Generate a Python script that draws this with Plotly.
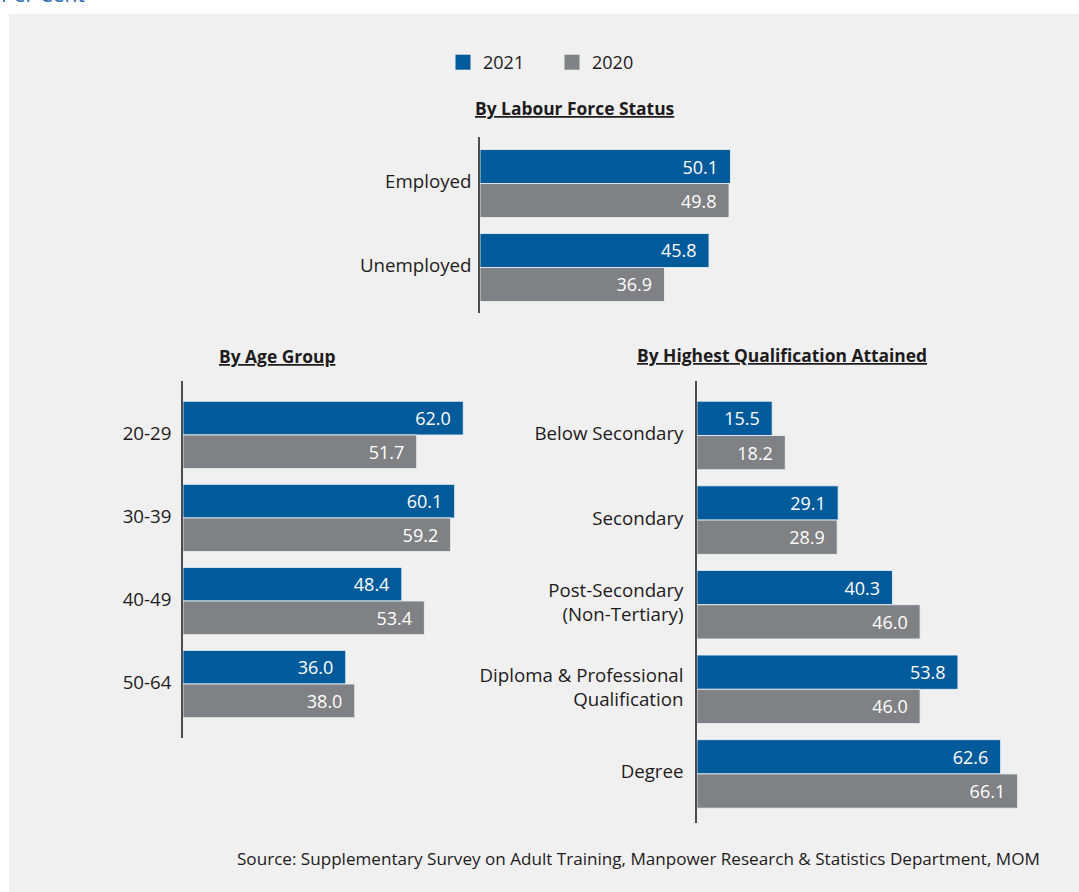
import plotly.graph_objects as go

# ---- data ----
series_names = ["2021", "2020"]

status_cats = ["Employed", "Unemployed"]
status_2021 = [50.1, 45.8]
status_2020 = [49.8, 36.9]

age_cats = ["20-29", "30-39", "40-49", "50-64"]
age_2021 = [62.0, 60.1, 48.4, 36.0]
age_2020 = [51.7, 59.2, 53.4, 38.0]

qual_cats = [
    "Below Secondary",
    "Secondary",
    "Post-Secondary<br>(Non-Tertiary)",
    "Diploma & Professional<br>Qualification",
    "Degree",
]
qual_2021 = [15.5, 29.1, 40.3, 53.8, 62.6]
qual_2020 = [18.2, 28.9, 46.0, 46.0, 66.1]

# ---- styling ----
W, H = 1079, 892
BLUE = "#015a9a"
GREY = "#808184"
TEXT = "#1e1b1c"
FONT = "Open Sans"
SERIES_COLORS = [BLUE, GREY]


def px(x):
    return x / W


def py(y):
    return 1 - y / H


fig = go.Figure()

panels = [
    # (categories, 2021 values, 2020 values, x axis id, y axis id)
    (status_cats, status_2021, status_2020, "x", "y"),
    (age_cats, age_2021, age_2020, "x2", "y2"),
    (qual_cats, qual_2021, qual_2020, "x3", "y3"),
]

NBSP = "\u00a0"
for cats, v21, v20, xa, ya in panels:
    for name, vals, color in zip(series_names, (v21, v20), SERIES_COLORS):
        fig.add_trace(
            go.Bar(
                y=cats,
                x=vals,
                orientation="h",
                name=name,
                legendgroup=name,
                showlegend=False,
                marker=dict(color=color, line=dict(color="rgba(235,240,246,0.85)", width=1)),
                texttemplate="%{x:.1f}" + NBSP * 2,
                textposition="inside",
                insidetextanchor="end",
                constraintext="none",
                textfont=dict(family=FONT, size=18, color="white"),
                xaxis=xa,
                yaxis=ya,
                hoverinfo="skip",
            )
        )

# legend entries with larger square swatches
for name, color in zip(series_names, SERIES_COLORS):
    fig.add_trace(
        go.Scatter(
            x=[None],
            y=[None],
            mode="markers",
            name=name,
            legendgroup=name,
            marker=dict(symbol="square", size=15, color=color),
            xaxis="x",
            yaxis="y",
            hoverinfo="skip",
        )
    )

axis_line = dict(showline=True, linecolor="#4d4d4f", linewidth=1.6)
hidden_x = dict(showgrid=False, zeroline=False, showticklabels=False, showline=False, ticks="")
ytick_font = dict(family=FONT, size=18.7, color=TEXT)

fig.update_layout(
    width=W,
    height=H,
    margin=dict(l=0, r=0, t=0, b=0),
    paper_bgcolor="white",
    plot_bgcolor="rgba(0,0,0,0)",
    barmode="group",
    bargap=0.19,
    bargroupgap=0,
    font=dict(family=FONT, color=TEXT),
    # top panel: by labour force status
    xaxis=dict(domain=[px(480), px(780)], range=[0, 60], anchor="y", **hidden_x),
    yaxis=dict(
        domain=[py(313), py(137)],
        range=[1.542, -0.554],
        anchor="x",
        type="category",
        categoryarray=status_cats,
        ticks="",
        ticklabelstandoff=3,
        ticklabelshift=2,
        tickfont=ytick_font,
        showgrid=False,
        **axis_line,
    ),
    # bottom-left panel: by age group
    xaxis2=dict(domain=[px(183), px(183 + 4.52 * 70)], range=[0, 70], anchor="y2", **hidden_x),
    yaxis2=dict(
        domain=[py(738), py(381)],
        range=[3.65, -0.65],
        anchor="x2",
        type="category",
        ticks="",
        ticklabelstandoff=6,
        ticklabelshift=2,
        tickfont=ytick_font,
        showgrid=False,
        **axis_line,
    ),
    # bottom-right panel: by highest qualification
    xaxis3=dict(domain=[px(697), px(697 + 4.85 * 75)], range=[0, 75], anchor="y3", **hidden_x),
    yaxis3=dict(
        domain=[py(823), py(381)],
        range=[4.58, -0.644],
        anchor="x3",
        type="category",
        ticks="",
        ticklabelstandoff=8,
        ticklabelshift=2,
        tickfont=ytick_font,
        showgrid=False,
        **axis_line,
    ),
    legend=dict(
        orientation="h",
        x=px(443),
        xanchor="left",
        y=py(44),
        yanchor="top",
        font=dict(family=FONT, size=18, color=TEXT),
        bgcolor="rgba(0,0,0,0)",
        entrywidth=64,
        entrywidthmode="pixels",
        traceorder="normal",
    ),
    shapes=[
        dict(
            type="rect",
            xref="paper",
            yref="paper",
            x0=px(9),
            x1=1,
            y0=0,
            y1=py(14),
            fillcolor="#f0f0f0",
            line=dict(width=0),
            layer="below",
        )
    ],
)

title_font = dict(family=FONT, size=17.4, color=TEXT, weight="bold", lineposition="under")
annotations = [
    dict(text="By Labour Force Status", x=px(574), y=py(108)),
    dict(text="By Age Group", x=px(277), y=py(356)),
    dict(text="By Highest Qualification Attained", x=px(781.5), y=py(355)),
]
for a in annotations:
    fig.add_annotation(
        xref="paper", yref="paper", xanchor="center", yanchor="middle",
        showarrow=False, font=title_font, **a
    )

fig.add_annotation(
    text="Source: Supplementary Survey on Adult Training, Manpower Research & Statistics Department, MOM",
    xref="paper", yref="paper", x=px(235), y=py(858), xanchor="left", yanchor="middle",
    showarrow=False, font=dict(family=FONT, size=17.1, color=TEXT),
)

fig.add_annotation(
    text="Per Cent",
    xref="paper", yref="paper", x=px(-1), y=py(10), xanchor="left", yanchor="bottom",
    showarrow=False, font=dict(family=FONT, size=21, color="#2a6ab0"),
)

fig.write_html("out.html")
